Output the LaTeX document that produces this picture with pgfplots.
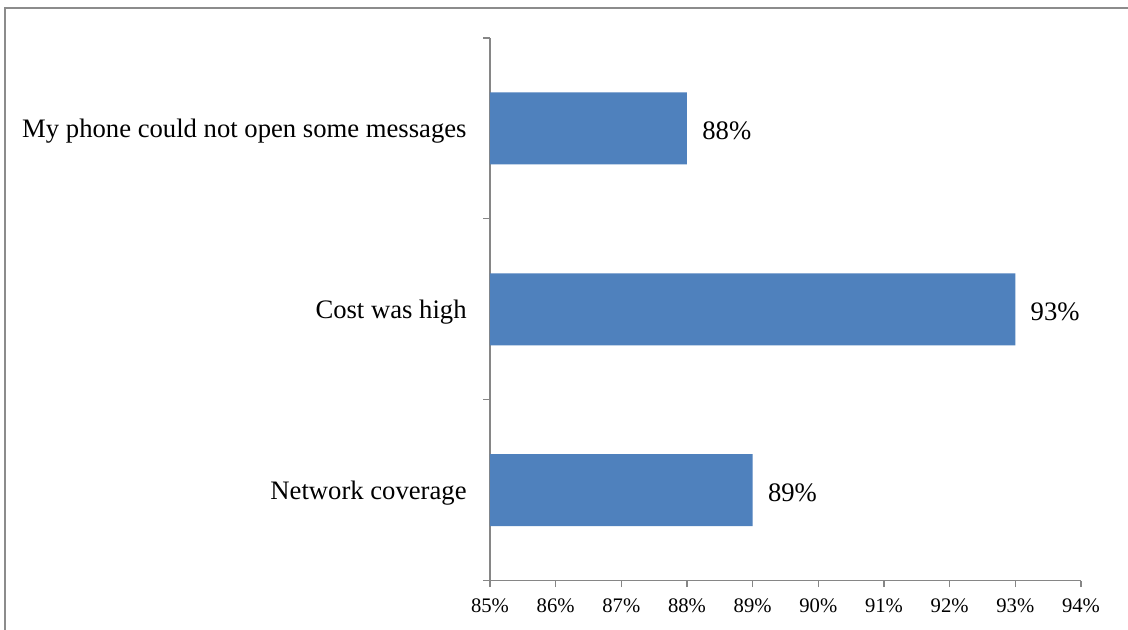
\documentclass[border=0pt]{standalone}
\usepackage{pgfplots}
\pgfplotsset{compat=1.18}
\usepackage{fontspec}
\setmainfont{Liberation Serif}

\definecolor{barblue}{HTML}{4F81BD}
\definecolor{axisgray}{HTML}{868686}
\definecolor{framegray}{HTML}{8C8C8C}

\begin{document}
\begin{tikzpicture}
  % canvas and chart-area frame (left and top edges)
  \useasboundingbox (0,0) rectangle (846pt,472.5pt);
  \fill[white] (0,0) rectangle (846pt,472.5pt);
  \draw[framegray, line width=1pt] (3.75pt,0) -- (3.75pt,466.5pt) -- (846pt,466.5pt);

  \begin{axis}[
    at={(367.5pt,37.1pt)}, anchor=south west,
    scale only axis,
    width=443.25pt, height=406.9pt,
    xbar, bar width=54pt,
    xmin=85, xmax=94,
    ymin=-0.5, ymax=2.5,
    axis x line=bottom, axis y line=left,
    axis line style={-, axisgray, line width=0.9pt},
    tick style={axisgray, line width=0.9pt},
    tick align=outside,
    major tick length=5pt,
    xtick={85,86,87,88,89,90,91,92,93,94},
    xticklabels={85\%,86\%,87\%,88\%,89\%,90\%,91\%,92\%,93\%,94\%},
    xticklabel style={font=\fontsize{15.5}{18}\selectfont, yshift=-5pt},
    ytick={-0.5,0.5,1.5,2.5},
    y tick label as interval,
    yticklabels={Network coverage, Cost was high, My phone could not open some messages},
    yticklabel style={font=\fontsize{20}{24}\selectfont, anchor=east, xshift=-9pt, yshift=-2pt},
    nodes near coords={\pgfmathprintnumber[assume math mode=true]{\pgfplotspointmeta}\%},
    every node near coord/.append style={font=\fontsize{20}{24}\selectfont, anchor=west, xshift=8pt, yshift=-2pt},
  ]
    \addplot[fill=barblue, draw=none] coordinates {
      (89,0) (93,1) (88,2)
    };
  \end{axis}
\end{tikzpicture}
\end{document}
